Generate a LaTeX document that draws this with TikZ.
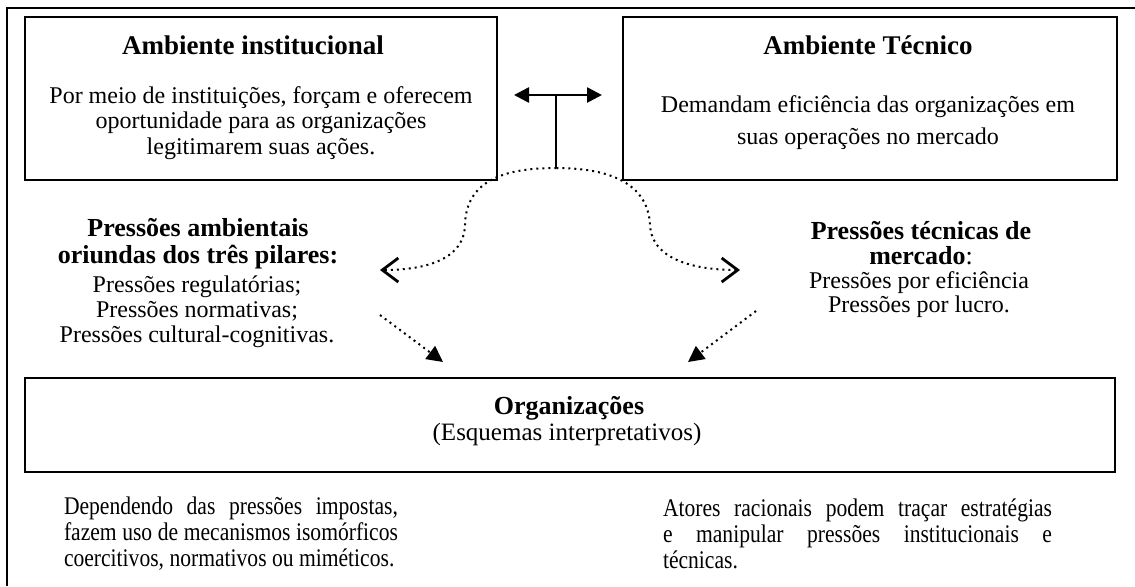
\documentclass[tikz,border=0pt]{standalone}
\usepackage{fontspec}
\setmainfont{Liberation Serif}
\newfontfamily\narrowfont{Liberation Serif}[FakeStretch=0.85]
\usepackage{tikz}
\usetikzlibrary{arrows.meta,positioning,calc}
\tikzstyle{envbox}=[draw,line width=1pt,minimum width=236pt,minimum height=81.5pt,inner sep=0pt]
\hyphenpenalty=10000

\begin{document}
\begin{tikzpicture}[
  x=0.5pt, y=-0.5pt,
  every node/.style={inner sep=0pt, align=center},
  title/.style={font=\fontsize{13.5}{13.5}\selectfont\bfseries},
  press/.style={font=\fontsize{13}{13.5}\selectfont\bfseries},
  body/.style={font=\fontsize{12}{12.75}\selectfont},
  note/.style={font=\narrowfont\fontsize{12.7}{13}\selectfont, align=justify},
  dots/.style={dotted, line width=1pt},
  push/.style={dots, -{Triangle[length=8pt,width=8pt]}},
  swerve/.style={dots, -{Straight Barb[length=8pt,width=12pt,line width=0.4pt 1]}}
]
\useasboundingbox (0,0) rectangle (1135,586);

% frame
\draw[line width=1pt] (1135,8) -- (7,8) -- (7,586);

% the two environments
\node[envbox] (inst) at (261,98.5) {};
\node[envbox, minimum width=247pt, right=62pt of inst] (tec) {};
\node[title] (instname) at (253,45) {Ambiente institucional};
\node[body] (insttext) at (261,123)
  {Por meio de instituições, forçam e oferecem\\
   oportunidade para as organizações\\
   legitimarem suas ações.};
\node[title] (tecname) at (868,45) {Ambiente Técnico};
\node[body, font=\fontsize{12}{16}\selectfont] (tectext) at (868,123)
  {Demandam eficiência das organizações em\\
   suas operações no mercado};

% pressures
\node[press] (instpress) at (198,244)
  {Pressões ambientais\\oriundas dos três pilares:};
\node[body, font=\fontsize{12}{12.5}\selectfont] (instlist) at (197,312)
  {Pressões regulatórias;\\Pressões normativas;\\Pressões cultural-cognitivas.};
\node[press, font=\fontsize{13}{12.5}\selectfont\bfseries] (tecpress) at (921,243)
  {Pressões técnicas de\\mercado{\mdseries:}};
\node[body, font=\fontsize{12}{12}\selectfont] (teclist) at (919,295)
  {Pressões por eficiência\\Pressões por lucro.};

% organizations
\node[envbox, minimum width=545pt, minimum height=47pt,
  below=98pt of inst.south west, anchor=north west] (org) {};
\node[font=\fontsize{13}{13}\selectfont\bfseries] (orgname) at (569,408) {Organizações};
\node[font=\fontsize{12.5}{12.5}\selectfont] (orgsub) at (567,434)
  {(Esquemas interpretativos)};

\node[note, text width=167pt] (isonote) at (231,534)
  {Dependendo das pressões impostas,\linebreak
   fazem uso de mecanismos isomórficos\linebreak
   coercitivos, normativos ou miméticos.};
\node[note, text width=194.5pt] (ratnote) at (857.5,534)
  {Atores racionais podem traçar estratégias\linebreak
   e manipular pressões institucionais e\linebreak
   técnicas.};

% connectors
\draw[line width=1.3pt,
  {Triangle[length=7.5pt,width=7.5pt]}-{Triangle[length=7.5pt,width=7.5pt]},
  shorten <=8pt, shorten >=10pt]
  ([yshift=1.75pt]inst.east) -- ([yshift=1.75pt]tec.west) coordinate[pos=0.47] (mid);
\coordinate (arch) at ($(mid)+(0,73)$);
\draw[line width=0.8pt] (mid) -- (arch);

\coordinate (instend) at (380,270);
\coordinate (tecend) at (740,270);
\draw[swerve] (arch) .. controls (505,168) and (466,180) .. (465,225)
  .. controls (464,262) and (420,270) .. (instend);
\draw[swerve] (arch) .. controls (603,168) and (648,180) .. (650,225)
  .. controls (652,262) and (700,270) .. (tecend);

\coordinate (instfrom) at (380,315);
\coordinate (instto) at (443,362);
\coordinate (tecfrom) at (756,311);
\coordinate (tecto) at (688,362);
\draw[push] (instfrom) -- (instto);
\draw[push] (tecfrom) -- (tecto);

\end{tikzpicture}
\end{document}
